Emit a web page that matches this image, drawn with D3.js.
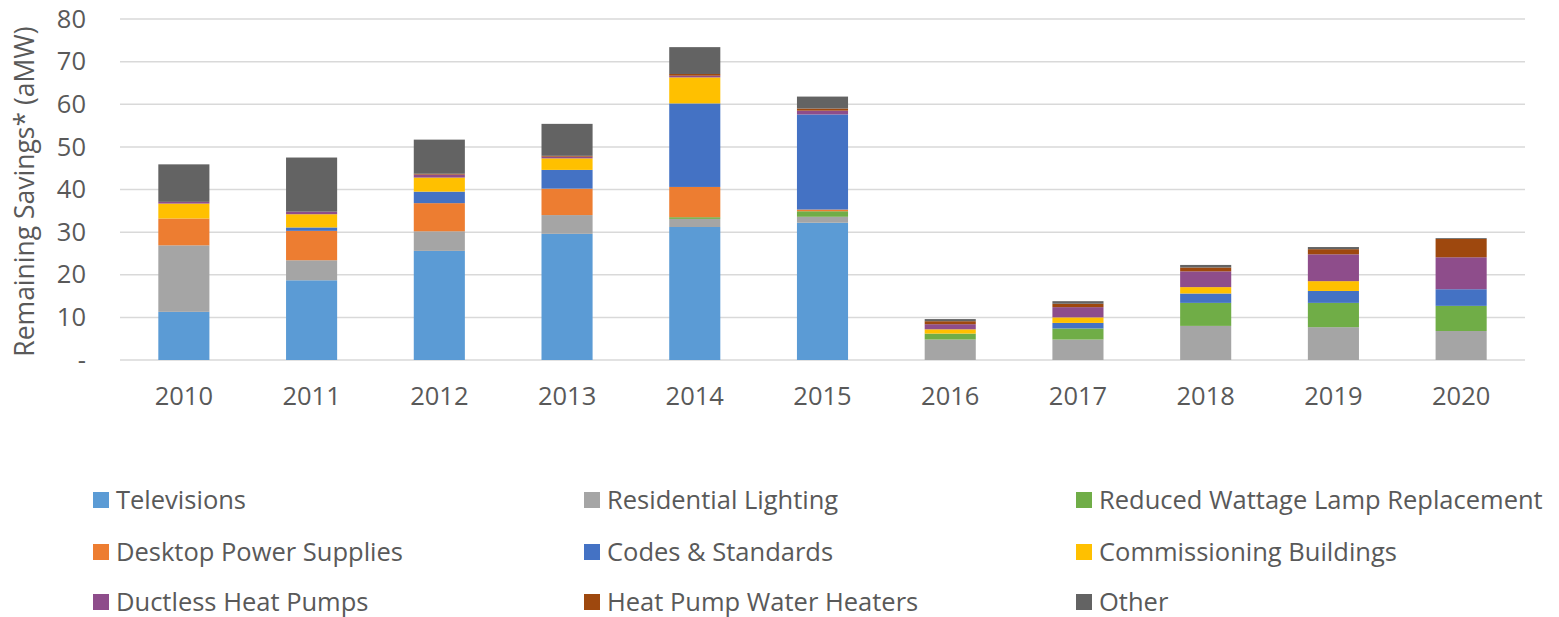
<!DOCTYPE html>
<html>
<head>
<meta charset="utf-8">
<script src="https://cdn.jsdelivr.net/npm/d3@7"></script>
<style>
  body { margin: 0; background: #fff; }
  svg text { font-family: "Open Sans", sans-serif; fill: #595959; }
</style>
</head>
<body>
<svg id="chart" width="1559" height="617"></svg>
<script>
// data (aMW)
var years = ['2010', '2011', '2012', '2013', '2014', '2015', '2016', '2017', '2018', '2019', '2020'];
var seriesNames = ['Televisions', 'Residential Lighting', 'Reduced Wattage Lamp Replacement',
  'Desktop Power Supplies', 'Codes & Standards', 'Commissioning Buildings',
  'Ductless Heat Pumps', 'Heat Pump Water Heaters', 'Other'];
var televisions = [11.3, 18.7, 25.6, 29.6, 31.2, 32.2, 0, 0, 0, 0, 0];
var residentialLighting = [15.6, 4.7, 4.6, 4.4, 1.9, 1.4, 4.8, 4.8, 8.0, 7.7, 6.8];
var reducedWattage = [0, 0, 0, 0, 0.4, 1.3, 1.4, 2.6, 5.4, 5.7, 5.9];
var desktopPower = [6.3, 6.9, 6.6, 6.2, 7.1, 0.4, 0, 0, 0, 0, 0];
var codesStandards = [0, 0.8, 2.7, 4.4, 19.6, 22.3, 0, 1.3, 2.2, 2.8, 3.9];
var commissioning = [3.5, 3.1, 3.3, 2.7, 6.1, 0, 1.0, 1.3, 1.5, 2.3, 0];
var ductless = [0.4, 0.6, 0.7, 0.4, 0.4, 0.9, 1.2, 2.4, 3.7, 6.3, 7.5];
var heatPumpWH = [0, 0, 0.2, 0.2, 0.4, 0.5, 0.7, 0.8, 0.9, 1.2, 4.3];
var other = [8.8, 12.7, 8.0, 7.5, 6.3, 2.8, 0.5, 0.6, 0.6, 0.5, 0.2];
var yTicks = [0, 10, 20, 30, 40, 50, 60, 70, 80];

var colors = ['#5B9BD5', '#A5A5A5', '#70AD47', '#ED7D31', '#4472C4', '#FFC000', '#8E4D8B', '#9E480E', '#636363'];
var allSeries = [televisions, residentialLighting, reducedWattage, desktopPower, codesStandards,
  commissioning, ductless, heatPumpWH, other];

// build the table for d3.stack
var table = years.map(function (y, i) {
  var row = { year: y };
  seriesNames.forEach(function (n, k) { row[n] = allSeries[k][i]; });
  return row;
});

var svg = d3.select('#chart');
var margin = { left: 120, right: 34, top: 19, bottom: 257 };
var width = 1559 - margin.left - margin.right;
var height = 617 - margin.top - margin.bottom;
var fontSize = '25.5px';

var x = d3.scaleBand().domain(years).range([0, width]).paddingInner(0.6).paddingOuter(0.3);
var y = d3.scaleLinear().domain([0, 80]).range([height, 0]);
var color = d3.scaleOrdinal().domain(seriesNames).range(colors);

var g = svg.append('g').attr('transform', 'translate(' + margin.left + ',' + margin.top + ')');

// gridlines
g.append('g')
  .selectAll('line')
  .data(yTicks)
  .enter()
  .append('line')
  .attr('x1', 0)
  .attr('x2', width)
  .attr('y1', d => y(d))
  .attr('y2', d => y(d))
  .style('stroke', '#d9d9d9')
  .style('stroke-width', 1.5);

// y axis labels
var yAxis = g.append('g')
  .call(d3.axisLeft(y).tickValues(yTicks).tickSize(0).tickPadding(34)
    .tickFormat(d => d === 0 ? '-' : d));
yAxis.select('.domain').remove();
yAxis.selectAll('text').style('font-size', fontSize).style('fill', '#595959');

// x axis labels
var xAxis = g.append('g')
  .attr('transform', 'translate(0,' + height + ')')
  .call(d3.axisBottom(x).tickSize(0).tickPadding(27));
xAxis.select('.domain').remove();
xAxis.selectAll('text').style('font-size', fontSize).style('fill', '#595959');

// stacked bars
var stacked = d3.stack().keys(seriesNames)(table);
g.append('g')
  .selectAll('g')
  .data(stacked)
  .enter()
  .append('g')
  .attr('fill', d => color(d.key))
  .selectAll('rect')
  .data(d => d)
  .enter()
  .append('rect')
  .attr('x', d => x(d.data.year))
  .attr('width', x.bandwidth())
  .attr('y', d => y(d[1]))
  .attr('height', d => y(d[0]) - y(d[1]));

// y title
svg.append('text')
  .attr('transform', 'rotate(-90)')
  .attr('x', -(margin.top + height / 2) - 2)
  .attr('y', 34)
  .attr('text-anchor', 'middle')
  .style('font-size', '26.5px')
  .text('Remaining Savings* (aMW)');

// legend: 3 columns, filled row by row
var legendCols = [93, 584, 1076];
var legendRows = [500, 552, 602];
var legend = svg.append('g')
  .selectAll('g')
  .data(seriesNames)
  .enter()
  .append('g')
  .attr('transform', (d, i) => 'translate(' + legendCols[i % 3] + ',' + legendRows[Math.floor(i / 3)] + ')');
legend.append('rect')
  .attr('x', 0)
  .attr('y', -8)
  .attr('width', 16)
  .attr('height', 16)
  .attr('fill', d => color(d));
legend.append('text')
  .attr('x', 23)
  .attr('y', 0)
  .attr('dy', '0.35em')
  .style('font-size', fontSize)
  .text(d => d);
</script>
</body>
</html>
